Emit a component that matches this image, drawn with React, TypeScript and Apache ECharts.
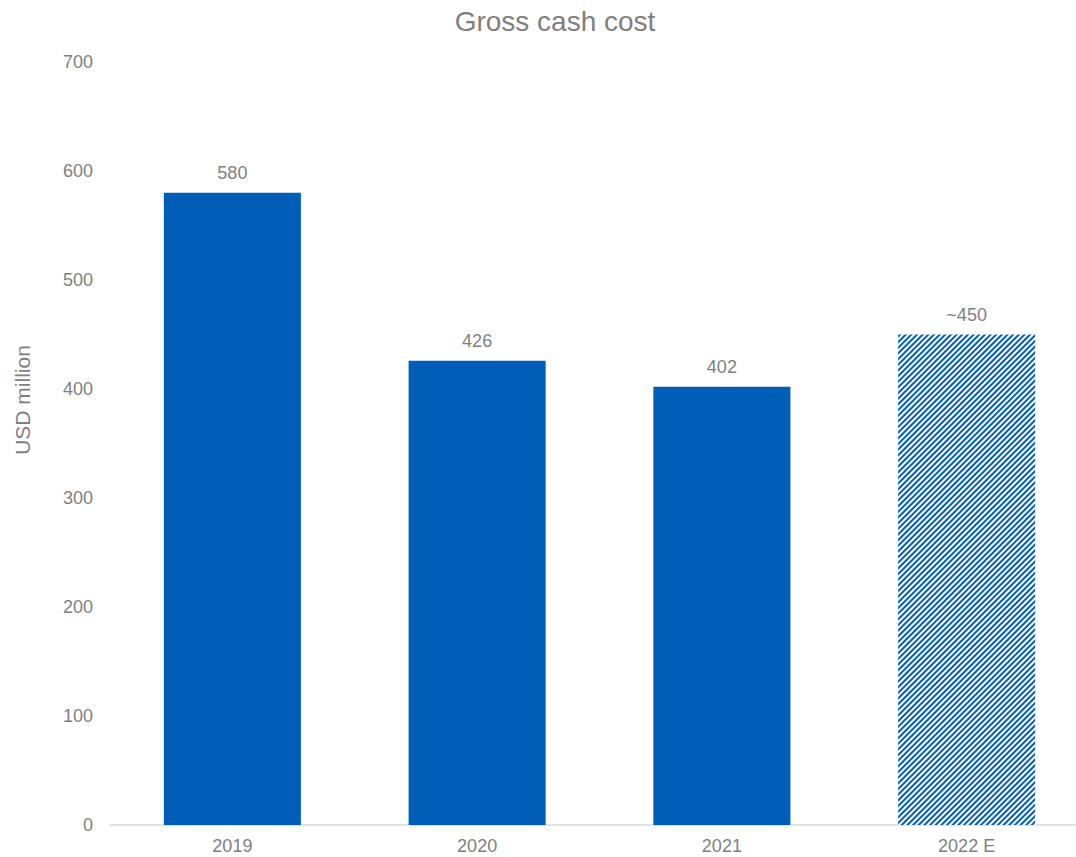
import React, { useEffect, useRef } from "react";
import * as echarts from "echarts";

const categories = ["2019", "2020", "2021", "2022 E"];
const values = [580, 426, 402, 450];
const labels = ["580", "426", "402", "~450"];
const yTicks = [0, 100, 200, 300, 400, 500, 600, 700];

const BLUE = "#005EB8";
const GREY = "#7f7f7f";
const FONT = "'Liberation Sans', Arial, sans-serif";

export default function App() {
  const ref = useRef<HTMLDivElement>(null);
  useEffect(() => {
    const chart = echarts.init(ref.current!, null, { renderer: "svg" });
    chart.setOption({
      animation: false,
      title: {
        text: "Gross cash cost",
        left: 550,
        top: 2,
        textAlign: "center",
        textStyle: { color: GREY, fontSize: 28, fontWeight: "normal", fontFamily: FONT },
      },
      graphic: [
        {
          type: "text",
          x: 22,
          y: 400,
          rotation: Math.PI / 2,
          style: {
            text: "USD million",
            fill: GREY,
            fontSize: 21,
            fontFamily: FONT,
            align: "center",
            verticalAlign: "middle",
          },
        },
      ],
      grid: { left: 110, right: 0, top: 62, bottom: 32 },
      xAxis: {
        type: "category",
        data: categories,
        axisLine: { lineStyle: { color: "#d9d9d9", width: 1.5 } },
        axisTick: { show: false },
        axisLabel: { color: GREY, fontSize: 18, margin: 12, fontFamily: FONT },
      },
      yAxis: {
        type: "value",
        min: yTicks[0],
        max: yTicks[yTicks.length - 1],
        interval: 100,
        axisLine: { show: false },
        axisTick: { show: false },
        splitLine: { show: false },
        axisLabel: { color: GREY, fontSize: 18, margin: 17, fontFamily: FONT },
      },
      series: [
        {
          type: "bar",
          barWidth: "56%",
          data: values.map((v, i) =>
            i === 3
              ? {
                  value: v,
                  itemStyle: {
                    color: "#ffffff",
                    decal: {
                      symbol: "rect",
                      color: BLUE,
                      dashArrayX: [1, 0],
                      dashArrayY: [2, 1.5],
                      rotation: -Math.PI / 4,
                    },
                  },
                }
              : { value: v, itemStyle: { color: BLUE } }
          ),
          label: {
            show: true,
            position: "top",
            distance: 11,
            color: GREY,
            fontSize: 18,
            fontFamily: FONT,
            formatter: (p: any) => labels[p.dataIndex],
          },
        },
      ],
    });
    return () => chart.dispose();
  }, []);
  return (
    <div style={{ position: "fixed", left: 0, top: 0, width: 1076, height: 857, overflow: "hidden", background: "#fff" }}>
      <div ref={ref} style={{ width: 1089, height: 857 }} />
    </div>
  );
}
